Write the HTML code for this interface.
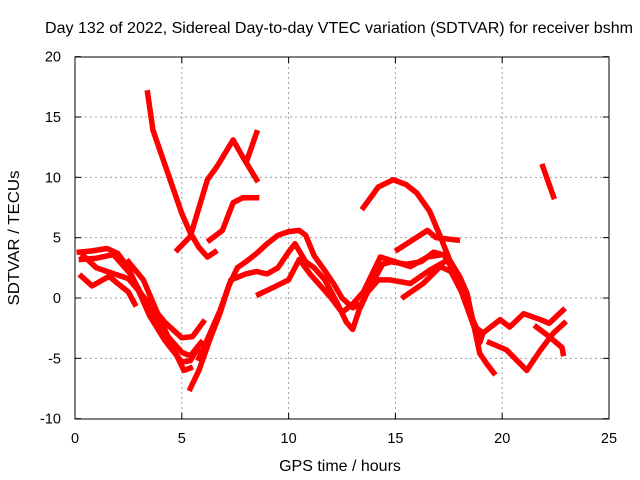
<!DOCTYPE html>
<html><head><meta charset="utf-8"><style>
body{margin:0;background:#fff;}
svg{display:block;font-family:"Liberation Sans",sans-serif;}
</style></head><body>
<svg id="chart" width="640" height="480" viewBox="0 0 640 480">
<rect width="640" height="480" fill="#fff"/>
<text x="339" y="33" text-anchor="middle" font-size="16" textLength="588" lengthAdjust="spacingAndGlyphs">Day 132 of 2022, Sidereal Day-to-day VTEC variation (SDTVAR) for receiver bshm</text>
<text x="340" y="471" text-anchor="middle" font-size="16">GPS time / hours</text>
<text transform="translate(19,238) rotate(-90)" text-anchor="middle" font-size="16" textLength="135" lengthAdjust="spacingAndGlyphs">SDTVAR / TECUs</text>
<g id="grid"></g><g id="ticks"></g><g id="series"></g>
<rect x="75" y="57" width="534" height="362" fill="none" stroke="#000" stroke-width="1"/>
</svg>
<script>
const xTicks=[0,5,10,15,20,25];
const yTicks=[-10,-5,0,5,10,15,20];
const sA_x=[3.4,3.65,4.45,5.0,5.4,5.8,6.2,6.55];
const sA_y=[17,13.9,9.8,7.0,5.4,4.2,3.4,3.8];
const sB_x=[4.8,5.4,6.2,6.65,7.4,7.85,8.5];
const sB_y=[4.0,5.1,9.8,10.9,13.1,11.7,9.8];
const sB2_x=[8.05,8.5];
const sB2_y=[11.4,13.7];
const sC_x=[6.3,6.9,7.4,7.85,8.5];
const sC_y=[4.8,5.6,7.9,8.3,8.3];
const dA_x=[0.2,0.8,1.5,2.0,2.5,3.0,3.5,4.2,5.0,5.4,5.7];
const dA_y=[3.8,3.9,4.1,3.7,2.5,0.5,-1.5,-3.5,-5.3,-5.2,-4.3];
const dB_x=[0.3,1.0,1.8,2.6,3.2,3.8,4.5,5.0,5.4,5.9];
const dB_y=[3.2,3.3,3.6,2.0,0,-2,-3.5,-4.5,-4.8,-3.7];
const dC_x=[0.3,0.8,1.3,1.6,2.0,2.5,2.8];
const dC_y=[1.8,1.0,1.5,1.8,1.2,0.5,-0.5];
const dD_x=[0.4,1.0,1.5,2.5,3.5,4.2,5.0,5.5,6.0];
const dD_y=[3.5,2.5,2.2,1.6,-0.5,-2,-3.3,-3.2,-2];
const dE_x=[2.5,3.2,3.8,4.5,5.1,5.4];
const dE_y=[3,1.5,-1,-3.8,-6,-5.8];
const eA_x=[5.4,5.8,6.3,6.8,7.2,7.6,8.0,8.5,9.0,9.5,10.0,10.5,10.8,11.2,11.6,12.1,12.5,13.0,13.4,14.0,14.4,14.8,15.5,16.2,16.8,17.2];
const eA_y=[-7.5,-6,-3.5,-1.2,1,2.5,3,3.7,4.5,5.2,5.5,5.6,5.2,3.5,2.5,1.2,0,-0.8,-0.5,1.5,2.8,3,2.8,3,3.8,3.6];
const eB_x=[5.8,6.3,6.8,7.3,8.0,8.5,9.0,9.5,10.0,10.3,10.8,11.2,11.7,12.3,12.7,13.0,13.3,13.7,14.2,14.75,15.7,16.6,17.4];
const eB_y=[-5,-3,-1,1.5,2,2.2,2,2.5,3.8,4.5,3,2.5,1.5,-0.5,-2,-2.6,-1,0.5,1.5,1.5,1.2,2.3,3.1];
const eC_x=[8.6,9.2,10.0,10.5,11.0,11.5,12.0,12.5,13.0,13.5,14.3,15.7,16.5,17.2];
const eC_y=[0.3,0.8,1.5,3.2,2.0,1.0,0,-1.2,-0.5,0.5,3.4,2.6,3.4,3.6];
const fArc_x=[13.5,14.2,14.9,15.5,16.0,16.6,17.1,17.55,18.0,18.35,18.7,18.95,19.3,19.6];
const fArc_y=[7.5,9.2,9.8,9.4,8.7,7.2,5.1,3.1,1.8,0.4,-2.5,-4.6,-5.5,-6.2];
const fUp_x=[15.1,15.8,16.5,16.9,17.9];
const fUp_y=[4,4.8,5.6,5,4.8];
const fLow_x=[15.4,16.3,17.1,17.6,18.1,18.5,18.95,19.1];
const fLow_y=[0.1,1.2,2.6,2.2,0.5,-1.5,-3.7,-2.9];
const gA_x=[17.3,17.8,18.3,18.8,19.1,19.9,20.35,21.0,21.8,22.2,22.85];
const gA_y=[3.5,2.0,-0.5,-2.5,-2.9,-1.8,-2.4,-1.3,-1.8,-2.1,-1.0];
const gB_x=[19.4,20.2,21.15,21.8,22.4,22.9];
const gB_y=[-3.7,-4.3,-6,-4.3,-2.9,-2.1];
const gC_x=[21.6,22.2,22.8,22.85];
const gC_y=[-2.4,-3.2,-4.1,-4.6];
const hS_x=[21.9,22.4];
const hS_y=[10.9,8.4];
const seriesList=[[sA_x,sA_y],[sB_x,sB_y],[sB2_x,sB2_y],[sC_x,sC_y],[dA_x,dA_y],[dB_x,dB_y],[dC_x,dC_y],[dD_x,dD_y],[dE_x,dE_y],[eA_x,eA_y],[eB_x,eB_y],[eC_x,eC_y],[fArc_x,fArc_y],[fUp_x,fUp_y],[fLow_x,fLow_y],[gA_x,gA_y],[gB_x,gB_y],[gC_x,gC_y],[hS_x,hS_y]];
const NS="http://www.w3.org/2000/svg";
function sx(h){return 75+h*534/25;}
function sy(v){return 298-v*362/30;}
const grid=document.getElementById('grid'),ticks=document.getElementById('ticks'),ser=document.getElementById('series');
function mk(tag,attrs,parent){const e=document.createElementNS(NS,tag);for(const k in attrs)e.setAttribute(k,attrs[k]);parent.appendChild(e);return e;}
xTicks.forEach(t=>{
 const x=sx(t);
 if(t>0&&t<25){const g=mk('line',{x1:x,y1:57,x2:x,y2:419,stroke:'#a0a0a0','stroke-dasharray':'2,3'},grid);
 
 }
 mk('line',{x1:x,y1:419,x2:x,y2:413,stroke:'#000'},ticks);
 mk('line',{x1:x,y1:57,x2:x,y2:63,stroke:'#000'},ticks);
 const l=mk('text',{x:x,y:443,'text-anchor':'middle','font-size':'14.5'},ticks);
 l.textContent=t;
 
 
});
yTicks.forEach(t=>{
 const y=sy(t);
 if(t>-10&&t<20){const g=mk('line',{x1:75,y1:y,x2:609,y2:y,stroke:'#a0a0a0','stroke-dasharray':'2,3'},grid);
 
 }
 mk('line',{x1:75,y1:y,x2:81,y2:y,stroke:'#000'},ticks);
 mk('line',{x1:609,y1:y,x2:603,y2:y,stroke:'#000'},ticks);
 const l=mk('text',{x:61,y:y+5,'text-anchor':'end','font-size':'14.5'},ticks);
 l.textContent=t;
 
 
});
seriesList.forEach((s,i)=>{
 const pts=s[0].map((h,j)=>sx(h).toFixed(1)+','+sy(s[1][j]).toFixed(1)).join(' ');
 const p=mk('polyline',{points:pts,fill:'none',stroke:'#ff0000','stroke-width':5.5,'stroke-linejoin':'round','stroke-linecap':'square'},ser);
 
 
});
</script>
</body></html>
